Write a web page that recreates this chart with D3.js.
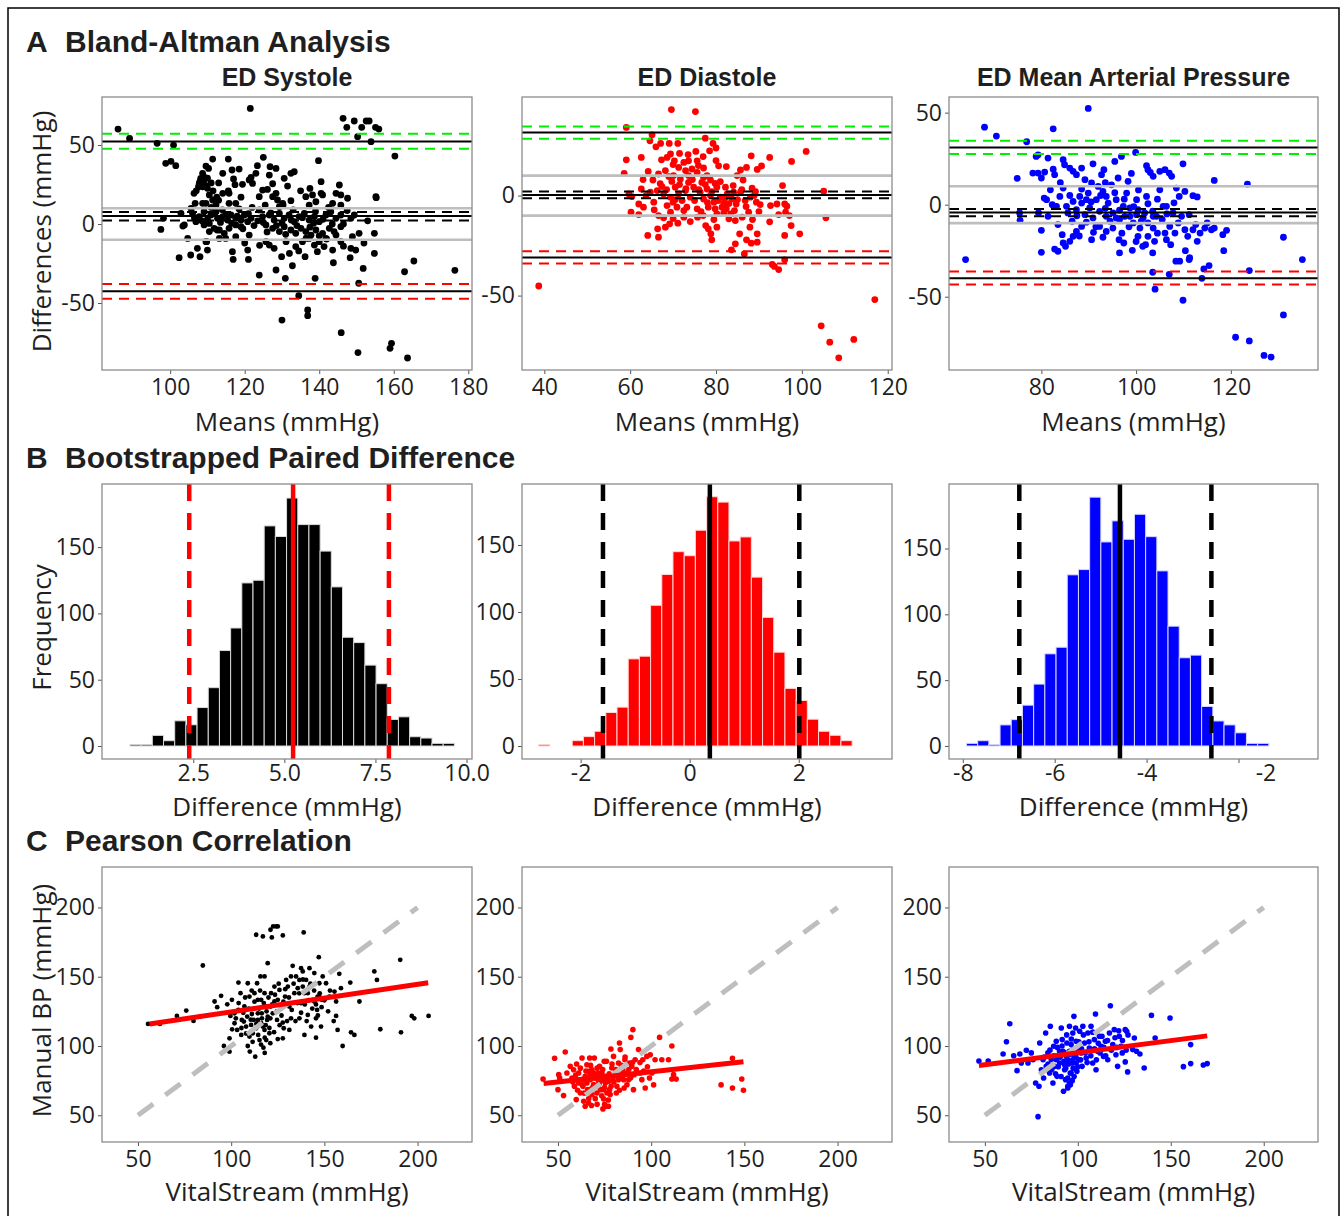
<!DOCTYPE html>
<html>
<head>
<meta charset="utf-8">
<script src="https://cdn.jsdelivr.net/npm/d3@7"></script>
<style>body{margin:0;background:#fff}</style>
</head>
<body>
<div id="chart"></div>
<script>
// ---- data ----
// A: Bland-Altman, [mean, difference]
const sysPts = [[86.0,60.1],[89.1,54.2],[96.5,51.1],[100.9,50.0],[121.5,73.2],[146.4,66.9],[147.4,61.2],[149.4,65.2],[150.3,55.3],[151.4,61.2],[152.6,65.2],[153.4,65.2],[153.9,52.1],[155.1,61.2],[156.0,60.1],[160.3,43.0],[150.4,-81.4],[159.0,-78.7],[159.4,-75.5],[163.7,-84.8],[162.9,-30.2],[165.4,-23.4],[176.4,-29.3],[145.9,-68.8],[136.9,-58.0],[136.9,-54.4],[130.0,-60.8],[97.5,-3.4],[98.2,3.6],[98.8,38.4],[100.2,39.7],[101.5,36.9],[103.4,-1.3],[110.0,-16.5],[108.0,-20.7],[109.8,-11.2],[112.6,-3.8],[129.9,-20.7],[132.0,-18.6],[155.3,16.7],[109.0,30.0],[110.0,29.0],[108.0,27.0],[111.0,26.0],[109.5,24.5],[107.0,21.0],[111.5,21.0],[112.5,17.0],[113.0,15.0],
  [111.4,41.1],[115.6,41.1],[109.6,36.7],[110.3,35.2],[114.1,32.1],[116.6,34.2],[118.5,34.8],[123.4,36.9],[125.0,42.2],[126.8,36.3],[128.4,35.2],[126.6,31.0],[121.7,29.5],[123.0,32.1],[121.2,27.9],[122.1,25.7],[119.4,25.1],[117.4,24.9],[115.6,20.9],[115.8,19.4],[114.1,19.4],[108.7,32.1],[108.2,28.9],[109.1,27.9],[107.8,25.7],[107.6,23.6],[108.7,23.6],[110.0,22.6],[106.4,19.4],[110.5,18.4],[111.4,15.2],[106.7,13.1],[108.7,13.1],[109.6,13.1],[112.3,12.0],[115.8,13.1],[117.6,13.1],[123.9,17.3],[124.8,21.5],[126.1,21.9],[127.5,17.3],[128.4,19.4],[128.8,15.2],[130.2,13.1],[129.3,11.0],[132.4,14.8],[133.3,33.1],[132.4,32.1],[130.6,28.9],[130.3,12.0],[136.4,17.3],[138.2,18.4],[137.3,12.0],[139.1,14.1],[140.5,19.4],[140.9,18.4],[139.8,40.1],[140.5,26.8],[145.4,24.7],[144.5,19.4],[145.8,18.4],[147.6,16.3],[143.6,13.1],[145.8,12.0],[155.2,17.3],
  [102.9,6.8],[105.6,9.9],[106.0,6.8],[107.8,4.7],[109.1,7.8],[110.9,5.7],[112.3,7.8],[112.7,3.6],[114.1,4.7],[115.4,2.5],[116.3,5.7],[117.6,3.6],[119.0,2.5],[119.9,5.7],[120.8,1.5],[121.7,3.6],[110.5,0.4],[111.8,-2.7],[113.2,-3.8],[114.5,-5.9],[115.8,-2.7],[117.6,-0.6],[119.0,-1.7],[121.2,-7.0],[109.1,-0.6],[106.9,1.5],[103.8,-0.6],[123.9,8.9],[124.8,4.7],[126.6,5.7],[127.9,2.5],[129.3,6.8],[130.6,3.6],[131.9,5.7],[133.3,1.5],[134.6,4.7],[136.0,6.8],[137.3,2.5],[138.7,4.7],[140.0,1.5],[141.8,5.7],[143.1,7.8],[144.5,3.6],[145.8,5.7],[148.5,3.6],[149.4,5.7],[125.7,-0.6],[127.5,-2.7],[129.3,-4.8],[130.6,-1.7],[132.4,-3.8],[133.7,-5.9],[135.1,-2.7],[136.4,-4.8],[137.8,-7.0],[139.1,-3.8],[140.9,-5.9],[142.7,-2.7],[144.0,-4.8],[145.8,-1.7],
  [125.7,-11.2],[126.6,-13.3],[127.9,-15.4],[131.1,-11.2],[133.7,-14.3],[135.5,-11.2],[137.3,-9.1],[138.7,-13.3],[140.0,-11.2],[141.3,-14.3],[143.6,-16.5],[148.9,-8.0],[150.7,-5.9],[148.5,-15.4],[149.8,-16.5],[141.8,-9.1],[145.8,-11.2],[110.5,-4.8],[113.2,-9.1],[114.9,-9.1],[117.6,-8.0],[109.6,-11.2],[107.3,-15.4],[105.5,-19.6],[102.4,-21.3],[116.7,-17.5],[120.8,-16.5],[116.9,-22.4],[121.0,-22.4],[123.9,-32.3],[128.4,-29.1],[130.9,-34.4],[132.8,-26.4],[136.2,-20.7],[138.9,-34.4],[143.8,-24.5],[148.3,-21.3],[151.8,-28.1],[150.6,-37.5],[154.8,-18.6],[154.8,-5.9],[134.5,-45.4],[104.7,-9.1],
  [106.5,4.0],[108.5,2.0],[110.0,3.0],[111.5,6.5],[113.5,1.0],[115.0,6.0],[116.5,0.5],[118.0,5.0],[119.5,-3.0],[121.0,6.5],[122.5,-1.0],[123.5,2.0],[125.0,1.0],[126.0,-5.0],[127.0,7.0],[128.5,-1.0],[130.0,0.5],[131.0,-6.5],[132.5,2.5],[134.0,-1.0],[135.5,4.0],[136.5,-9.0],[137.5,-2.0],[138.5,0.5],[140.0,-7.5],[141.0,3.0],[142.0,-9.5],[143.5,0.0],[144.5,-7.0],[146.5,0.0],[147.5,8.5],[111.0,10.5],[114.0,9.0],[118.5,9.5],[122.0,10.5],[125.5,12.0],[133.0,9.0],[139.0,8.0],[142.5,10.5],[135.0,21.0],[137.5,22.5],[131.5,24.0],[127.5,25.5],[119.0,17.0],[117.0,28.5],[113.0,26.0],[120.0,-12.0],[124.0,-13.5],[134.5,-17.0],[139.5,-17.5],[146.5,-14.0],[153.0,2.0],[152.0,-12.0]];

const diaPts = [[69.6,43.0],[75.2,42.0],[59.1,34.1],[77.5,28.7],[65.1,30.4],[64.6,27.4],[66.0,24.4],[67.1,26.1],[69.1,26.1],[71.1,26.1],[75.3,22.1],[78.5,22.4],[80.0,23.8],[79.3,26.1],[101.0,22.1],[92.5,19.1],[97.6,17.1],[59.1,17.9],[62.6,19.1],[58.6,11.1],[64.2,12.1],[67.3,17.9],[68.6,19.1],[69.4,20.8],[70.3,17.4],[71.5,21.1],[72.5,16.6],[73.6,17.4],[75.6,17.4],[77.1,13.8],[80.6,14.9],[82.4,14.5],[85.7,12.8],[87.1,14.1],[88.2,19.9],[89.6,13.1],[90.6,14.8],[65.3,7.8],[66.6,10.8],[68.2,12.5],[70.1,10.0],[71.7,8.3],[73.6,10.0],[75.6,11.6],[77.1,9.1],[78.7,7.8],[84.9,10.0],[86.3,7.8],[88.4,3.7],[89.2,2.0],[95.5,5.0],[105.1,2.2],[59.7,0.8],[60.4,-0.5],[60.2,-8.3],[62.6,3.3],[62.0,-4.2],[63.1,-5.8],[65.5,-3.3],[65.6,-7.1],[66.3,2.5],[67.4,4.5],[67.8,0.8],[68.6,-5.0],[69.4,-0.8],[70.5,4.2],[71.3,0.8],[72.1,-2.5],[72.9,2.5],[74.0,-0.8],[74.8,4.2],[75.6,-6.6],[76.3,1.7],[77.1,-1.7],[77.9,3.3],[78.7,0.0],[79.5,-3.3],[80.2,4.2],[81.0,-0.8],[81.8,-4.2],[82.6,0.8],[83.7,-1.7],[84.7,-4.2],[85.7,1.7],[86.8,-2.5],[88.0,-0.8],[89.4,-3.3],[90.3,-4.5],[92.7,-5.0],[94.2,-4.2],[96.0,-4.2],[96.5,-5.3],[94.6,-9.5],[96.2,-8.3],[97.1,-10.0],[105.6,-11.1],[66.6,-10.0],[67.8,-11.1],[69.4,-8.3],[71.1,-13.8],[72.5,-10.8],[75.7,-10.8],[77.0,-10.0],[80.2,-9.1],[81.8,-8.8],[83.0,-11.6],[84.5,-12.5],[86.1,-10.8],[87.6,-8.3],[83.4,-9.1],[64.1,-19.9],[66.4,-16.6],[66.6,-20.8],[68.2,-15.8],[69.2,-14.1],[77.6,-15.0],[78.2,-16.6],[78.8,-19.1],[80.2,-15.8],[79.0,-22.1],[85.5,-19.1],[84.5,-24.1],[83.6,-27.1],[86.6,-29.1],[87.1,-22.1],[87.9,-15.8],[88.2,-23.8],[89.6,-19.1],[89.6,-23.3],[92.5,-13.1],[96.0,-19.9],[97.5,-15.0],[99.5,-19.1],[93.1,-34.4],[93.6,-35.4],[94.6,-37.0],[96.0,-32.1],[38.7,-45.2],[104.5,-65.1],[106.5,-73.3],[108.6,-81.1],[112.1,-71.9],[117.0,-52.0],[73.6,6.6],[76.7,6.6],[79.8,6.1],[77.9,10.0],[72.9,12.5],[71.3,14.1],[74.4,13.3],[75.9,15.0],[69.7,7.1],[82.2,4.2],[84.1,1.7],[81.4,-5.8],[79.8,-6.6],[78.2,-5.8],[73.2,-5.8],[70.9,-5.8],[64.7,1.7],[63.7,0.0],[70.0,-3.3],[82.4,-6.6],[84.3,-7.5],[88.9,0.0],
  [67.0,6.0],[68.5,3.0],[69.0,9.5],[70.5,-2.0],[71.5,5.5],[72.5,-7.5],[73.0,3.5],[74.5,8.0],[75.0,-2.5],[76.0,3.0],[76.5,-8.0],[77.5,5.5],[78.0,-3.5],[79.0,2.0],[80.5,-2.5],[81.0,7.0],[82.0,-1.5],[83.0,-4.0],[84.0,5.0],[85.0,-2.0],[86.0,3.0],[87.0,-5.5],[88.5,-12.0],[90.0,-8.0],[74.0,-13.0],[70.0,-11.5],[79.5,-12.0],[73.5,20.5],[77.0,19.5],[70.0,15.5],[80.0,17.5],[63.0,8.0],[62.0,-9.5]];

const mapPts = [[89.9,52.3],[68.0,42.1],[70.5,37.3],[82.5,41.2],[76.9,34.2],[64.0,-29.8],[135.1,-29.8],[131.1,-17.7],[123.5,11.2],[116.5,13.2],[123.9,-35.8],[131.1,-59.9],[121.0,-72.0],[123.9,-74.0],[127.0,-81.9],[128.5,-82.8],[109.9,-51.9],[104.0,-45.9],[103.5,-36.7],[107.0,-37.8],[113.9,-40.0],[114.3,-34.9],[115.4,-33.1],[111.3,-28.8],[110.4,-25.0],[108.4,-30.7],[109.2,-30.7],[118.5,-25.0],[118.3,-16.3],[119.1,-13.9],[116.5,-12.7],[115.0,-9.9],[112.6,-10.8],[112.9,-19.9],[110.9,-17.2],[109.9,22.2],[110.3,7.2],[112.0,4.9],[112.9,4.2],[109.1,4.5],[108.5,9.0],[102.2,21.2],[102.5,19.0],[103.0,17.5],[99.9,28.4],[96.9,26.2],[95.5,23.5],[90.9,22.2],[88.5,19.9],[93.2,19.0],[92.7,16.3],[84.6,24.4],[84.9,21.7],[86.0,19.9],[86.7,18.1],[87.4,16.3],[81.4,25.3],[78.9,26.2],[79.3,27.1],[78.2,17.2],[79.3,17.2],[80.7,17.7],[80.0,14.5],[82.5,19.3],[82.8,16.3],[74.9,14.3],[75.4,-4.5],[75.5,-8.5],[79.4,-4.5],[80.0,-13.9],[80.0,-25.9],[80.6,3.6],[81.1,2.7],[81.9,8.1],[82.3,0.0],[81.4,-6.3],[83.2,-0.9],[83.5,-10.8],[83.9,4.5],[84.6,9.0],[84.4,-16.3],[84.6,-20.8],[82.8,-24.1],[83.5,-25.3],[85.1,-22.6],[86.0,-19.9],[86.7,-17.2],[87.4,-14.5],[88.5,-11.8],[85.3,-0.9],[85.6,-4.5],[86.7,1.8],[87.4,-2.7],[88.5,0.9],[89.2,-5.4],[89.9,6.3],[90.2,-1.8],[90.9,-7.2],[91.6,2.7],[92.3,-3.6],[93.0,7.2],[93.7,-6.3],[94.1,0.9],[94.8,10.8],[95.1,-4.5],[95.8,2.7],[96.2,14.5],[96.5,-8.1],[97.3,-0.9],[98.0,6.3],[98.3,12.7],[98.7,-6.3],[99.4,-9.9],[100.1,2.7],[100.4,-2.7],[101.1,-9.0],[101.8,-4.5],[102.2,4.5],[102.5,-17.2],[102.0,-21.7],[103.6,-12.7],[103.9,-19.9],[104.3,-6.3],[105.0,8.1],[105.7,-0.9],[106.1,-15.4],[106.4,-19.0],[107.1,-11.8],[107.3,-21.7],[106.4,-0.9],[107.8,-4.5],[108.2,-15.4],[108.9,-9.9],[109.6,-6.3],[110.3,-13.6],[103.5,-26.2],[101.4,-22.6],[100.4,-17.2],[99.2,-24.8],[96.5,-26.2],[96.4,-19.0],[97.4,-20.8],[95.1,-12.7],[93.0,-17.7],[90.6,-19.0],[92.3,-11.8],[93.7,-14.5],[100.8,-12.7],[105.0,18.1],[106.1,19.0],[107.0,17.2],[107.5,15.4],[103.6,15.4],[89.2,13.6],[90.6,11.8],[92.0,9.9],[89.5,2.7],[88.1,4.5],[93.7,4.5],[95.8,-7.2],[97.6,-6.3],[98.7,-1.8],[100.1,-5.4],[102.5,-9.9],[103.6,-6.3],[111.2,-5.4],[112.0,-13.6],[113.5,-15.4],[114.5,-12.7],[115.9,-13.6],[111.2,-29.8],
  [86.0,5.0],[87.5,-6.0],[88.5,8.5],[89.5,-9.5],[90.5,1.5],[91.5,-12.0],[92.5,5.0],[93.5,-2.0],[94.5,-9.0],[95.5,6.5],[96.5,-3.0],[97.5,3.0],[98.5,-12.0],[99.5,-1.0],[100.5,8.0],[101.5,-7.0],[102.5,0.5],[103.5,-3.5],[104.5,3.0],[105.5,-8.0],[106.5,-5.0],[108.0,1.0],[91.0,-15.0],[88.0,-17.0],[97.0,-15.5],[104.5,-15.5],[99.0,17.0],[93.5,12.0],[100.0,-20.0],[84.0,12.0],[86.5,-9.0]];

// Bland-Altman reference lines
const sysLines = { mean: 5.1, meanCI: [2.3, 7.6], upper: 52.3, upperCI: [47.7, 57.2], lower: -42.6, lowerCI: [-47.3, -38.0] };
const diaLines = { mean: 0.35, meanCI: [-1.3, 2.0], upper: 31.6, upperCI: [28.4, 34.5], lower: -30.9, lowerCI: [-33.9, -27.8] };
const mapLines = { mean: -4.3, meanCI: [-6.3, -2.3], upper: 31.1, upperCI: [27.5, 34.7], lower: -40.0, lowerCI: [-43.4, -36.3] };
const clinicalBand = [-10, 10];

// B: bootstrapped mean difference histograms (30 bins)
const bootSys = [0,1,1,8,4,19,16,29,44,72,89,123,125,166,158,187,167,167,147,120,82,78,61,47,20,22,7,6,2,2];
const bootDia = [1,0,0,4,7,11,25,29,65,67,105,128,145,142,161,186,182,153,156,126,96,70,43,34,20,11,8,4,0,0];
const bootMap = [2,4,1,16,20,31,47,70,75,130,134,189,155,171,157,176,159,133,91,67,69,30,19,16,10,2,2,0,0,0];
const binSys = { start: 0.456, width: 0.307 };
const binDia = { start: -2.77, width: 0.2053 };
const binMap = { start: -7.92, width: 0.2437 };
// [lower CI, mean, upper CI]
const ciSys = [2.39, 5.24, 7.87];
const ciDia = [-1.59, 0.37, 2.01];
const ciMap = [-6.77, -4.58, -2.59];

// C: Pearson correlation, [VitalStream, manual]
const corSys = [[55.4,115.9],[61.8,115.9],[70.9,121.7],[75.9,125.6],[79.8,118.1],[83.4,121.2],[84.8,158.1],[91.1,132.1],[92.5,128.0],[94.6,136.2],[96.1,100.0],[99.1,95.9],[99.1,105.5],[97.9,130.1],[99.6,121.7],[100.4,133.3],[101.8,116.4],[103.2,111.6],[103.9,145.8],[105.0,138.1],[105.7,118.8],[107.1,128.5],[108.0,114.0],[108.9,100.0],[108.9,145.3],[109.8,135.7],[111.1,123.1],[111.6,109.2],[112.9,92.3],[113.4,180.3],[113.9,145.3],[114.3,118.8],[115.2,104.3],[115.7,150.2],[116.1,133.3],[116.4,123.6],[117.0,114.0],[117.0,179.1],[117.3,98.8],[117.9,138.1],[118.8,128.5],[119.3,118.8],[119.6,159.8],[120.5,109.2],[121.1,183.9],[121.8,178.4],[122.5,186.3],[124.1,186.3],[125.0,186.3],[127.7,179.8],[121.4,138.1],[122.3,123.6],[123.2,132.1],[124.6,118.8],[125.9,140.5],[126.8,128.5],[127.7,105.5],[128.2,112.8],[128.9,135.7],[129.5,147.7],[130.4,142.9],[131.2,128.5],[132.1,120.0],[133.0,157.9],[133.9,138.1],[134.8,150.2],[135.7,141.7],[136.6,120.0],[137.5,130.9],[138.4,153.8],[138.9,182.0],[139.3,138.1],[140.2,147.7],[141.1,122.4],[142.0,142.9],[142.9,114.0],[143.8,133.3],[144.6,152.6],[145.5,120.0],[146.1,126.0],[146.4,135.7],[147.0,164.1],[147.3,145.3],[148.2,114.0],[148.6,133.3],[149.1,150.2],[150.9,145.3],[152.7,135.7],[155.4,139.3],[156.3,132.1],[156.3,121.7],[157.1,111.6],[158.0,152.1],[158.9,141.7],[159.8,100.0],[163.9,145.8],[164.3,109.9],[166.1,108.0],[168.8,132.1],[176.8,153.8],[178.2,147.7],[180.0,112.1],[190.7,162.2],[191.1,109.9],[196.9,121.7],[198.2,120.0],[205.9,121.7],[145.5,106.0],[139.3,108.0],[131.2,111.6],[127.7,116.9],[101.8,123.6],[103.9,126.0],[105.4,108.0],[106.8,117.6],[108.6,121.2],[109.8,106.8],[110.7,115.2],[112.1,118.8],[112.5,127.2],[113.4,112.8],[114.3,123.6],[116.1,116.4],[117.9,111.6],[118.8,104.3],[119.6,121.2],[121.1,128.5],[114.3,133.3],[112.5,138.1],[117.9,150.2],[123.2,142.9],[125.0,133.3],[132.1,150.2],[136.6,147.7],[138.4,142.9],[141.1,138.1],[144.6,132.1],[147.3,135.7],[142.0,156.2],[137.5,156.2],
  [100.5,112.0],[102.5,120.0],[104.0,131.0],[105.5,113.0],[106.5,124.0],[107.5,135.0],[108.0,109.0],[109.5,127.0],[110.5,119.0],[111.0,140.0],[111.5,103.0],[112.5,132.0],[113.5,116.0],[114.5,108.0],[115.0,127.0],[115.5,140.0],[116.5,120.0],[117.5,131.0],[118.0,106.0],[118.5,115.0],[119.0,125.0],[120.0,135.0],[120.5,113.0],[121.0,120.0],[122.0,130.0],[123.0,110.0],[123.5,137.0],[124.5,125.0],[125.5,145.0],[126.0,115.0],[127.0,122.0],[128.0,132.0],[129.0,141.0],[130.0,118.0],[131.0,135.0],[132.5,126.0],[133.5,145.0],[134.5,118.0],[135.5,131.0],[136.5,138.0],[137.5,124.0],[138.5,148.0],[139.5,130.0],[140.5,118.0],[141.5,133.0],[142.5,145.0],[143.5,127.0],[144.5,140.0],[145.5,130.0],[146.5,122.0],[147.5,138.0],[148.5,128.0],[150.0,133.0],[152.0,125.0],[153.0,140.0],[155.0,118.0],[118.0,95.0],[116.0,101.0],[121.0,102.0],[110.0,96.0],[125.0,105.0]];

const corDia = [[42.0,76.2],[48.2,91.1],[50.0,68.5],[50.4,79.3],[50.9,76.9],[53.0,64.2],[53.9,95.7],[54.8,80.5],[56.6,85.3],[57.5,76.9],[58.4,82.9],[58.8,70.9],[59.8,61.3],[60.2,75.7],[61.1,80.5],[62.0,66.1],[62.9,91.3],[63.4,70.9],[63.8,60.1],[64.6,56.5],[64.6,78.1],[65.5,86.5],[65.9,68.5],[66.4,58.9],[67.0,91.3],[67.3,75.7],[68.2,64.9],[68.2,82.9],[69.1,72.1],[69.5,91.3],[70.5,79.3],[70.9,66.1],[71.8,74.5],[72.3,85.3],[72.7,68.5],[73.6,80.5],[74.1,54.6],[74.5,61.8],[74.8,88.9],[75.4,73.3],[75.9,56.5],[76.3,66.1],[76.6,78.1],[77.1,56.5],[77.7,68.5],[78.0,64.9],[78.4,97.8],[78.9,84.1],[79.5,75.7],[79.8,92.5],[80.7,80.5],[81.6,70.9],[82.5,87.7],[83.0,102.2],[83.4,97.4],[83.8,78.1],[84.8,82.9],[85.5,69.7],[85.9,90.1],[87.0,80.5],[87.9,75.7],[88.4,87.7],[89.1,106.2],[89.6,85.3],[90.2,111.8],[90.5,68.5],[90.9,79.3],[91.4,90.1],[93.2,97.4],[94.1,80.5],[95.0,75.7],[95.5,90.1],[96.8,69.7],[97.7,92.5],[99.1,76.9],[99.5,93.7],[100.4,80.5],[101.3,71.9],[102.1,90.1],[104.5,106.2],[105.7,90.1],[109.3,90.1],[111.1,100.0],[112.0,79.3],[111.1,76.2],[113.4,76.2],[137.5,71.9],[143.6,91.1],[143.6,69.7],[148.6,76.2],[149.5,68.0],[63.8,75.7],[65.5,73.3],[67.3,79.3],[70.0,76.9],[71.8,80.5],[73.6,75.7],[75.4,78.1],[77.1,74.5],[78.9,78.1],[70.9,70.9],[72.7,74.5],[74.5,68.5],[67.3,68.5],[65.5,66.1],[69.1,80.5],[62.9,75.7],[61.1,73.3],[66.4,81.7],[82.5,75.7],[84.3,80.5],[81.3,66.1],[85.2,75.7],
  [58.0,74.0],[59.5,79.0],[60.5,68.0],[62.0,84.0],[63.0,72.0],[64.0,66.0],[65.0,82.0],[66.0,76.0],[66.5,62.0],[67.5,86.0],[68.5,70.0],[69.5,77.0],[70.0,62.0],[71.0,84.0],[72.0,72.0],[72.5,78.0],[73.5,64.0],[74.0,83.0],[75.0,70.0],[75.5,76.0],[76.0,89.0],[77.0,61.0],[77.5,80.0],[78.5,71.0],[79.0,87.0],[80.0,74.0],[81.0,83.0],[82.0,78.0],[83.0,68.0],[84.0,86.0],[85.0,79.0],[86.0,92.0],[87.0,72.0],[88.0,83.0],[89.0,77.0],[90.0,88.0],[92.0,83.0],[94.0,88.0],[96.0,82.0],[98.0,85.0],[71.0,58.0],[68.0,57.0],[75.0,58.0],[60.0,87.0]];

const corMap = [[46.8,89.2],[51.8,89.2],[59.8,94.2],[61.6,103.1],[63.4,116.1],[65.5,93.0],[67.3,82.2],[68.8,94.2],[69.6,87.7],[72.3,96.9],[73.2,87.7],[75.0,95.0],[75.9,90.1],[77.3,73.3],[78.6,49.0],[79.1,70.9],[79.5,102.2],[80.4,82.9],[81.3,90.1],[81.6,76.9],[82.7,109.4],[83.0,85.3],[83.9,95.0],[84.8,80.5],[85.2,114.2],[85.7,90.1],[86.6,73.3],[87.0,99.8],[87.5,85.3],[88.4,103.4],[88.8,78.1],[89.3,92.5],[90.2,87.7],[91.1,113.0],[91.6,104.6],[92.0,96.2],[92.3,67.3],[92.9,82.9],[93.4,75.7],[93.8,88.9],[94.1,102.2],[94.6,70.9],[95.2,93.7],[95.5,114.2],[95.9,80.5],[96.4,101.0],[97.0,87.7],[97.3,109.4],[97.9,121.4],[98.2,92.5],[98.8,113.0],[99.1,103.4],[99.5,81.7],[100.0,97.4],[100.5,90.1],[101.0,110.6],[101.8,95.0],[102.3,85.3],[102.7,114.2],[103.6,102.2],[104.5,91.3],[105.4,109.4],[106.2,98.6],[107.1,114.2],[108.0,87.7],[108.9,104.6],[109.5,123.1],[109.8,82.9],[110.7,96.2],[111.6,107.0],[112.5,99.8],[113.8,92.5],[114.8,103.4],[116.1,90.1],[117.0,109.4],[117.5,129.1],[118.8,101.0],[119.6,111.8],[120.5,93.7],[121.4,85.3],[122.3,107.0],[123.2,99.8],[123.9,95.0],[125.5,111.8],[126.3,110.6],[126.8,81.3],[125.5,88.5],[129.5,97.4],[130.4,105.8],[131.6,96.2],[133.4,94.2],[135.7,84.1],[139.6,122.1],[141.6,105.8],[149.6,120.2],[156.8,85.1],[160.7,101.0],[160.7,87.3],[167.5,86.3],[169.6,87.3],[88.4,90.1],[93.8,92.5],[95.5,96.2],[97.3,90.1],[99.1,87.7],[90.2,96.2],[92.9,86.5],[94.6,90.1],[96.4,80.5],[94.6,76.9],[95.5,73.3],[94.6,69.7],
  [82.0,92.0],[84.0,87.0],[85.0,97.0],[86.0,83.0],[87.0,93.0],[88.0,80.0],[89.0,99.0],[89.5,85.0],[90.5,92.0],[91.0,78.0],[91.5,100.0],[92.5,89.0],[93.0,95.0],[93.5,84.0],[94.0,108.0],[95.0,87.0],[96.0,94.0],[96.5,105.0],[97.5,84.0],[98.0,98.0],[99.0,92.0],[100.0,85.0],[100.5,103.0],[101.5,90.0],[102.0,98.0],[103.0,108.0],[104.0,95.0],[105.0,88.0],[106.0,103.0],[107.0,93.0],[108.0,110.0],[109.0,98.0],[110.0,90.0],[111.0,102.0],[112.0,95.0],[113.0,107.0],[114.0,99.0],[115.0,93.0],[116.0,104.0],[118.0,97.0],[120.0,106.0],[121.0,99.0],[122.0,111.0],[124.0,104.0],[126.0,97.0],[127.0,108.0],[97.0,75.0],[96.0,72.0],[98.0,78.0]];

// fitted regression lines [[x0,y0],[x1,y1]] and identity range
const fitSys = [[56.2,115.9],[205.7,145.7]];
const fitDia = [[42.3,72.9],[149.5,88.7]];
const fitMap = [[46.8,85.9],[169.6,107.3]];
const identity = [50, 200];

// ---- drawing ----
const W = 1344, H = 1216;
const FONT = "'Open Sans', 'Noto Sans', sans-serif";
const BOLD = "'Liberation Sans', Arial, sans-serif";
const TEXT = "#1f1f1f";

const svg = d3.select("#chart").append("svg")
    .attr("width", W).attr("height", H)
    .style("background-color", "#FFFFFF");

// outer frame (bottom edge falls outside the picture)
svg.append("path").attr("d", `M8,${H + 2} L8,8 L1339,8 L1339,${H + 2}`)
    .attr("fill", "none").attr("stroke", "#000").attr("stroke-width", 1.5);

const colX = [[102, 472], [522, 892], [949, 1318]];
const rowY = { A: [97, 370], B: [484, 759], C: [867, 1142] };
const box = (c, r) => ({ x0: colX[c][0], x1: colX[c][1], y0: rowY[r][0], y1: rowY[r][1] });

function drawAxes(p, x, y, xt, yt, xf, yf, pad = 5) {
    const g = svg.append("g");
    const ax = g.append("g").attr("transform", `translate(0,${p.y1})`)
        .call(d3.axisBottom(x).tickValues(xt).tickSize(4).tickPadding(pad).tickFormat(xf));
    const ay = g.append("g").attr("transform", `translate(${p.x0},0)`)
        .call(d3.axisLeft(y).tickValues(yt).tickSize(4).tickPadding(3).tickFormat(yf));
    [ax, ay].forEach(a => {
        a.select(".domain").remove();
        a.selectAll("line").attr("stroke", "#555");
        a.selectAll("text").attr("font-family", FONT).attr("font-size", 23).attr("fill", TEXT);
    });
    return ax;
}
function border(p) {
    svg.append("rect").attr("x", p.x0).attr("y", p.y0)
        .attr("width", p.x1 - p.x0).attr("height", p.y1 - p.y0)
        .attr("fill", "none").attr("stroke", "#8c8c8c").attr("stroke-width", 1.3);
}
const num = d => String(d);

// section headings
function heading(letter, text, yb) {
    svg.append("text").attr("x", 26).attr("y", yb).attr("font-family", BOLD).attr("font-weight", "bold")
        .attr("font-size", 30).attr("fill", TEXT).text(letter);
    svg.append("text").attr("x", 65).attr("y", yb).attr("font-family", BOLD).attr("font-weight", "bold")
        .attr("font-size", 30).attr("fill", TEXT).text(text);
}
heading("A", "Bland-Altman Analysis", 52);
heading("B", "Bootstrapped Paired Difference", 468);
heading("C", "Pearson Correlation", 851);

function xTitle(p, text, yb) {
    svg.append("text").attr("x", (p.x0 + p.x1) / 2).attr("y", yb).attr("text-anchor", "middle")
        .attr("font-family", FONT).attr("font-size", 26).attr("fill", TEXT).text(text);
}
function yTitle(p, text, shift = 0) {
    svg.append("text").attr("transform", `translate(51,${(p.y0 + p.y1) / 2 + shift}) rotate(-90)`)
        .attr("text-anchor", "middle").attr("font-family", FONT).attr("font-size", 26)
        .attr("fill", TEXT).text(text);
}

// ---- Row A: Bland-Altman ----
const rowA = [
    { pts: sysPts, lines: sysLines, color: "#000000", title: "ED Systole", xd: [81.7, 181], yd: [-92.4, 80.4], xt: [100, 120, 140, 160, 180], yt: [-50, 0, 50] },
    { pts: diaPts, lines: diaLines, color: "#FF0000", title: "ED Diastole", xd: [34.8, 121], yd: [-87.2, 49.3], xt: [40, 60, 80, 100, 120], yt: [-50, 0] },
    { pts: mapPts, lines: mapLines, color: "#0000FF", title: "ED Mean Arterial Pressure", xd: [60.5, 138.4], yd: [-89.8, 58.5], xt: [80, 100, 120], yt: [-50, 0, 50] }
];
rowA.forEach((d, i) => {
    const p = box(i, "A");
    const x = d3.scaleLinear().domain(d.xd).range([p.x0, p.x1]);
    const y = d3.scaleLinear().domain(d.yd).range([p.y1, p.y0]);
    drawAxes(p, x, y, d.xt, d.yt, num, num);

    svg.append("g").selectAll("circle").data(d.pts).join("circle")
        .attr("cx", v => x(v[0])).attr("cy", v => y(v[1])).attr("r", 3.4).attr("fill", d.color);

    const L = d.lines;
    const hl = [
        { v: clinicalBand[0], c: "#BEBEBE", w: 2.6, dash: null },
        { v: clinicalBand[1], c: "#BEBEBE", w: 2.6, dash: null },
        { v: L.mean, c: "#000", w: 2, dash: null },
        { v: L.meanCI[0], c: "#000", w: 2, dash: "10,7" },
        { v: L.meanCI[1], c: "#000", w: 2, dash: "10,7" },
        { v: L.upper, c: "#000", w: 2, dash: null },
        { v: L.upperCI[0], c: "#00EE00", w: 2, dash: "10,7" },
        { v: L.upperCI[1], c: "#00EE00", w: 2, dash: "10,7" },
        { v: L.lower, c: "#000", w: 2, dash: null },
        { v: L.lowerCI[0], c: "#FF0000", w: 2, dash: "10,7" },
        { v: L.lowerCI[1], c: "#FF0000", w: 2, dash: "10,7" }
    ];
    svg.append("g").selectAll("line").data(hl).join("line")
        .attr("x1", p.x0).attr("x2", p.x1)
        .attr("y1", h => y(h.v)).attr("y2", h => y(h.v))
        .attr("stroke", h => h.c).attr("stroke-width", h => h.w)
        .attr("stroke-dasharray", h => h.dash);

    border(p);
    svg.append("text").attr("x", (p.x0 + p.x1) / 2).attr("y", 86).attr("text-anchor", "middle")
        .attr("font-family", BOLD).attr("font-weight", "bold").attr("font-size", 25)
        .attr("fill", TEXT).text(d.title);
    xTitle(p, "Means (mmHg)", 431);
});
yTitle(box(0, "A"), "Differences (mmHg)", -2);

// ---- Row B: bootstrap histograms ----
const rowB = [
    { counts: bootSys, bin: binSys, ci: ciSys, fill: "#000000", edge: "#D9D9D9", line: "#FF0000", xd: [-0.004, 10.15], yd: [-9.8, 197.6], xt: [2.5, 5, 7.5, 10], xf: d3.format(".1f") },
    { counts: bootDia, bin: binDia, ci: ciDia, fill: "#FF0000", edge: "#FFD6D6", line: "#000000", xd: [-3.075, 3.71], yd: [-9.7, 195.5], xt: [-2, 0, 2], xf: num },
    { counts: bootMap, bin: binMap, ci: ciMap, fill: "#0000FF", edge: "#D6D6FF", line: "#000000", xd: [-8.30, -0.27], yd: [-9.9, 199], xt: [-8, -6, -4, -2], xf: num }
];
rowB.forEach((d, i) => {
    const p = box(i, "B");
    const x = d3.scaleLinear().domain(d.xd).range([p.x0, p.x1]);
    const y = d3.scaleLinear().domain(d.yd).range([p.y1, p.y0]);
    const ax = drawAxes(p, x, y, d.xt, [0, 50, 100, 150], d.xf, num, 2);
    if (i === 2) ax.selectAll(".tick text").filter(t => t === -2).attr("dx", 27);

    const bars = d.counts.map((c, k) => ({ a: d.bin.start + k * d.bin.width, b: d.bin.start + (k + 1) * d.bin.width, c }));
    svg.append("g").selectAll("rect").data(bars).join("rect")
        .attr("x", b => x(b.a)).attr("width", b => x(b.b) - x(b.a))
        .attr("y", b => y(b.c)).attr("height", b => y(0) - y(b.c))
        .attr("fill", d.fill).attr("stroke", d.edge).attr("stroke-width", 1);

    svg.append("g").selectAll("line").data(d.ci).join("line")
        .attr("x1", v => x(v)).attr("x2", v => x(v))
        .attr("y1", p.y0).attr("y2", p.y1)
        .attr("stroke", d.line).attr("stroke-width", 4.5)
        .attr("stroke-dasharray", (v, k) => k === 1 ? null : "17,12");

    border(p);
    xTitle(p, "Difference (mmHg)", 816);
});
yTitle(box(0, "B"), "Frequency", 6);

// ---- Row C: correlation ----
const rowC = [
    { pts: corSys, fit: fitSys, color: "#000000", r: 2.4 },
    { pts: corDia, fit: fitDia, color: "#FF0000", r: 2.8 },
    { pts: corMap, fit: fitMap, color: "#0000FF", r: 2.8 }
];
rowC.forEach((d, i) => {
    const p = box(i, "C");
    const x = d3.scaleLinear().domain([30.7, 229.2]).range([p.x0, p.x1]);
    const y = d3.scaleLinear().domain([30.7, 229.2]).range([p.y1, p.y0]);
    drawAxes(p, x, y, [50, 100, 150, 200], [50, 100, 150, 200], num, num);

    svg.append("g").selectAll("circle").data(d.pts).join("circle")
        .attr("cx", v => x(v[0])).attr("cy", v => y(v[1])).attr("r", d.r).attr("fill", d.color);

    svg.append("line")
        .attr("x1", x(identity[0])).attr("y1", y(identity[0]))
        .attr("x2", x(identity[1])).attr("y2", y(identity[1]))
        .attr("stroke", "#BEBEBE").attr("stroke-width", 5).attr("stroke-dasharray", "19,15");
    svg.append("line")
        .attr("x1", x(d.fit[0][0])).attr("y1", y(d.fit[0][1]))
        .attr("x2", x(d.fit[1][0])).attr("y2", y(d.fit[1][1]))
        .attr("stroke", "#FF0000").attr("stroke-width", 5);

    border(p);
    xTitle(p, "VitalStream (mmHg)", 1201);
});
yTitle(box(0, "C"), "Manual BP (mmHg)", -4);
</script>
</body>
</html>
